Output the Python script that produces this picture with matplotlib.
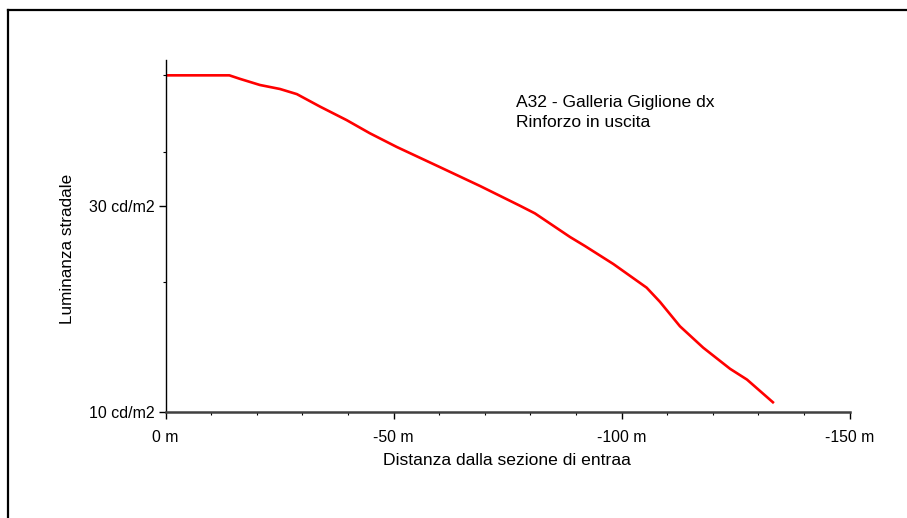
import numpy as np
import matplotlib.pyplot as plt
from matplotlib.ticker import FixedLocator, NullFormatter
from matplotlib.lines import Line2D

plt.rcParams['font.family'] = ['Liberation Sans', 'DejaVu Sans']

# distance from the entrance (m) and road luminance (cd/m2)
distance = [0, -14, -16.3, -20.7, -25.1, -28.8, -33.9, -39.7, -44.8, -50.7,
            -60, -69, -77.7, -81, -88.7, -92, -98.2, -105.5,
            -108.4, -112.8, -117.9, -123.8, -127.5, -133.4]
luminance = [60, 60, 58.9, 57, 55.8, 54.3, 50.8, 47.3, 44.1, 41,
             36.9, 33.3, 30, 28.8, 25.4, 24.2, 22, 19.4,
             18, 15.8, 14.1, 12.6, 11.9, 10.5]

x_ticks = [0, -50, -100, -150]
x_labels = ['0 m', '-50 m', '-100 m', '-150 m']
x_minor = [-10, -20, -30, -40, -60, -70, -80, -90, -110, -120, -130, -140]
y_ticks = [10, 30]
y_labels = ['10 cd/m2', '30 cd/m2']
y_minor = [20, 40, 60]

W, H = 907, 518
fig = plt.figure(figsize=(W / 100, H / 100), dpi=100)
ax = fig.add_axes([165.5 / W, 1 - 412.3 / H, (849.6 - 165.5) / W, (412.3 - 60) / H])

ax.plot(distance, luminance, color='#ff0000', lw=1.9,
        solid_joinstyle='round', solid_capstyle='butt')

ax.set_yscale('log')
ax.set_xlim(0, -150)
ax.set_ylim(10, 65.1)

ax.xaxis.set_major_locator(FixedLocator(x_ticks))
ax.set_xticklabels(x_labels)
ax.xaxis.set_minor_locator(FixedLocator(x_minor))
ax.yaxis.set_major_locator(FixedLocator(y_ticks))
ax.set_yticklabels(y_labels)
ax.yaxis.set_minor_locator(FixedLocator(y_minor))
ax.yaxis.set_minor_formatter(NullFormatter())

for side in ['top', 'right']:
    ax.spines[side].set_visible(False)
ax.spines['left'].set_linewidth(1.0)
ax.spines['left'].set_color('black')
ax.spines['bottom'].set_linewidth(1.8)
ax.spines['bottom'].set_color('#404040')

ax.tick_params(axis='x', which='major', direction='out', length=5, width=1.0,
               color='black', pad=8, labelsize=11.3)
ax.tick_params(axis='x', which='minor', direction='out', length=2.5, width=0.8, color='black')
ax.tick_params(axis='y', which='major', direction='out', length=5, width=1.0,
               color='black', pad=2.5, labelsize=11.5)
ax.tick_params(axis='y', which='minor', direction='out', length=2.5, width=0.8, color='black')

fig.text(507 / W, 1 - 465 / H, 'Distanza dalla sezione di entraa', ha='center',
         va='baseline', fontsize=12.6)
fig.text(68 / W, 1 - 249 / H, 'Luminanza stradale', ha='center', va='center',
         rotation=90, fontsize=12.3)

ax.text(0.512, 0.867, 'A32 - Galleria Giglione dx', transform=ax.transAxes,
        ha='left', va='baseline', fontsize=12.6)
ax.text(0.512, 0.810, 'Rinforzo in uscita', transform=ax.transAxes,
        ha='left', va='baseline', fontsize=12.6)

# outer frame (top and left edges only)
fig.add_artist(Line2D([7.5 / W, 1], [1 - 10 / H, 1 - 10 / H], color='black', lw=1.6,
                      transform=fig.transFigure))
fig.add_artist(Line2D([7.5 / W, 7.5 / W], [1 - 10 / H, 0], color='black', lw=1.6,
                      transform=fig.transFigure))

fig.savefig('out.png', dpi=100)
